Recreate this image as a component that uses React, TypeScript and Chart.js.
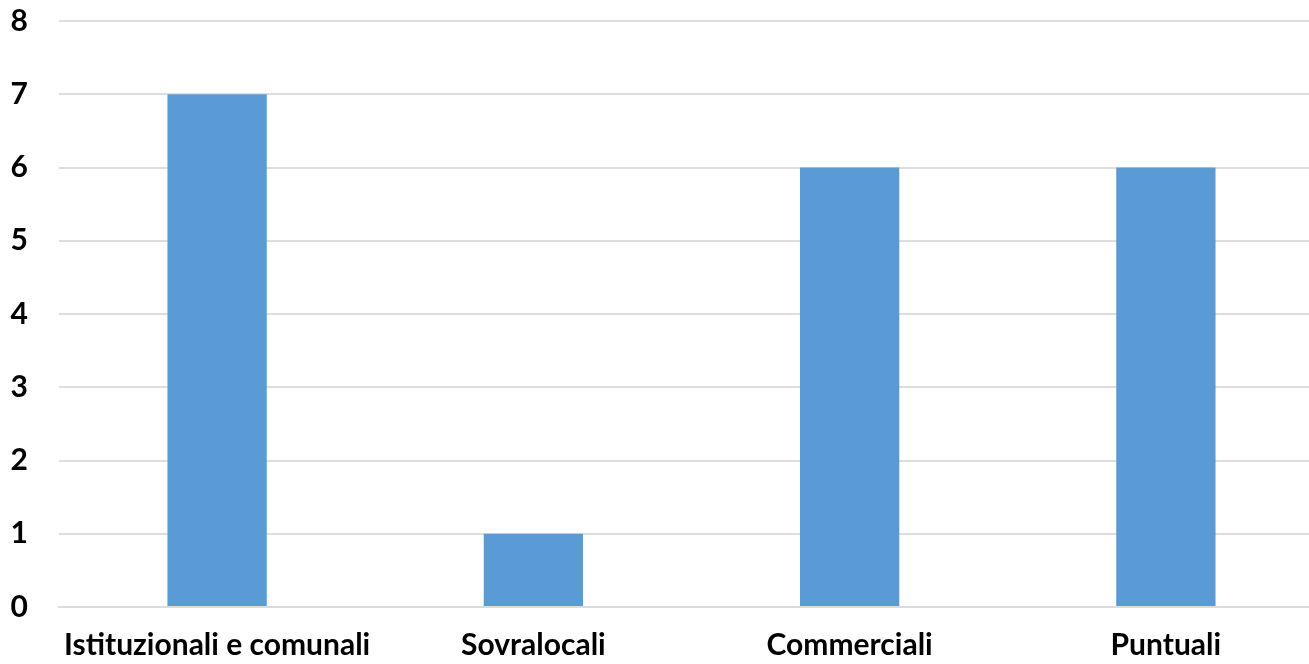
import React, { useEffect, useRef } from "react";
import { Chart, registerables } from "chart.js";

Chart.register(...registerables);

const categories = ["Istituzionali e comunali", "Sovralocali", "Commerciali", "Puntuali"];
const values = [7, 1, 6, 6];
const yTicks = [0, 1, 2, 3, 4, 5, 6, 7, 8];

export default function App() {
  const ref = useRef<HTMLCanvasElement | null>(null);
  useEffect(() => {
    if (!ref.current) return;
    const font = { family: "Lato", weight: "bold" as const, size: 30 };
    const chart = new Chart(ref.current, {
      type: "bar",
      data: {
        labels: categories,
        datasets: [
          {
            data: values,
            backgroundColor: "#5B9BD5",
            borderWidth: 0,
            categoryPercentage: 1,
            barPercentage: 0.314,
          },
        ],
      },
      options: {
        responsive: false,
        animation: false,
        layout: { padding: { top: 21, right: 0, left: 0, bottom: 0 } },
        plugins: { legend: { display: false }, tooltip: { enabled: false } },
        scales: {
          x: {
            afterFit: (axis: any) => {
              axis.height = 57;
              axis.paddingLeft = 0;
              axis.paddingRight = 0;
            },
            grid: { display: false, drawTicks: false },
            border: { display: true, color: "#DCDCDC", width: 2 },
            ticks: { color: "#000", font, padding: 20, maxRotation: 0, autoSkip: false },
          },
          y: {
            min: 0,
            max: 8,
            afterBuildTicks: (axis: any) => {
              axis.ticks = yTicks.map((v) => ({ value: v }));
            },
            afterFit: (axis: any) => {
              axis.width = 59;
              axis.paddingTop = 0;
              axis.paddingBottom = 0;
            },
            grid: { color: "#DEDEDE", lineWidth: 2, drawTicks: false },
            border: { display: false },
            ticks: { color: "#000", font, padding: 31 },
          },
        },
      },
    });
    return () => chart.destroy();
  }, []);
  return (
    <div
      style={{
        position: "fixed",
        left: 0,
        top: 0,
        width: 1309,
        height: 664,
        overflow: "hidden",
        background: "#fff",
      }}
    >
      <canvas ref={ref} width={1324} height={664} style={{ width: 1324, height: 664, display: "block" }} />
    </div>
  );
}
